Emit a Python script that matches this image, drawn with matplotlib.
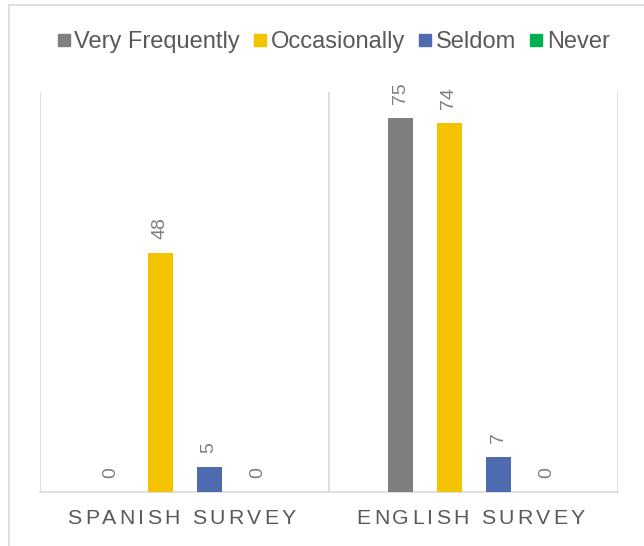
import matplotlib
matplotlib.use("Agg")
import matplotlib.pyplot as plt
import numpy as np
from matplotlib.lines import Line2D
from matplotlib.patches import Rectangle
from matplotlib import font_manager
from matplotlib.ft2font import LOAD_NO_HINTING

categories = ["SPANISH SURVEY", "ENGLISH SURVEY"]
series_names = ["Very Frequently", "Occasionally", "Seldom", "Never"]
very_frequently = [0, 75]
occasionally = [48, 74]
seldom = [5, 7]
never = [0, 0]
colors = ["#7f7f7f", "#f4c300", "#4e6bb0", "#00b050"]

series = [very_frequently, occasionally, seldom, never]

DPI = 100
W, H = 644, 546
plt.rcParams['font.family'] = ['Liberation Sans', 'DejaVu Sans']
fig = plt.figure(figsize=(W / DPI, H / DPI), dpi=DPI)

# chart border
fig.patches.append(Rectangle((9 / W, -0.1), 1.2, 1 - 5 / H + 0.1, transform=fig.transFigure,
                             fill=False, edgecolor="#d9d9d9", linewidth=1.2))

ax = fig.add_axes([40 / W, 1 - 492 / H, (618 - 40) / W, (492 - 92) / H])
x = np.arange(len(categories))
slot = 49 / 289
bw = 25 / 289
for i, (vals, c) in enumerate(zip(series, colors)):
    xs = x + (i - 1.5) * slot
    bars = ax.bar(xs, vals, width=bw, color=c, zorder=3)
    for xi, v in zip(xs, vals):
        ax.annotate(str(v), xy=(xi, v), xytext=(0, 10), textcoords="offset points",
                    rotation=90, ha="center", va="bottom", fontsize=14, color="#7f7f7f")

ax.set_xlim(-0.5, 1.5)
ax.set_ylim(0, 80.2)
for s in ["top", "left", "right"]:
    ax.spines[s].set_visible(False)
ax.spines["bottom"].set_color("#d9d9d9")
ax.spines["bottom"].set_linewidth(1.2)
for xv in [-0.5, 0.5, 1.5]:
    ax.axvline(xv, color="#d9d9d9", linewidth=1.2, zorder=1)
ax.set_yticks([])
ax.set_xticks([])

# letter-spaced category labels
fs_cat = 15.3
prop = font_manager.FontProperties(family="Liberation Sans", size=fs_cat)
font = font_manager.get_font(font_manager.findfont(prop))
font.set_size(fs_cat, DPI)
spacing_px = 3.2
for xi, label in zip(x, categories):
    advs = []
    for ch in label:
        gi = font.get_char_index(ord(ch))
        g = font.load_glyph(gi, flags=LOAD_NO_HINTING)
        advs.append(g.linearHoriAdvance / 65536)
    total = sum(advs) + spacing_px * (len(label) - 1)
    pos = -total / 2 - 3
    for ch, a in zip(label, advs):
        if ch != " ":
            ax.annotate(ch, xy=(xi, 0), xycoords=("data", "axes fraction"),
                        xytext=(pos * 72 / DPI, -26 * 72 / DPI), textcoords="offset points",
                        ha="left", va="center", fontsize=fs_cat, color="#595959",
                        annotation_clip=False)
        pos += a + spacing_px

handles = [Line2D([], [], marker="s", linestyle="none", markersize=9,
                  markerfacecolor=c, markeredgecolor=c) for c in colors]
fig.legend(handles, series_names, loc="center", bbox_to_anchor=(333 / W, 1 - 42 / H),
           ncol=4, frameon=False, fontsize=17, handlelength=0.6, handletextpad=0.15,
           columnspacing=0.55, labelcolor="#595959", borderaxespad=0, borderpad=0)

fig.savefig("out.png", dpi=DPI)
